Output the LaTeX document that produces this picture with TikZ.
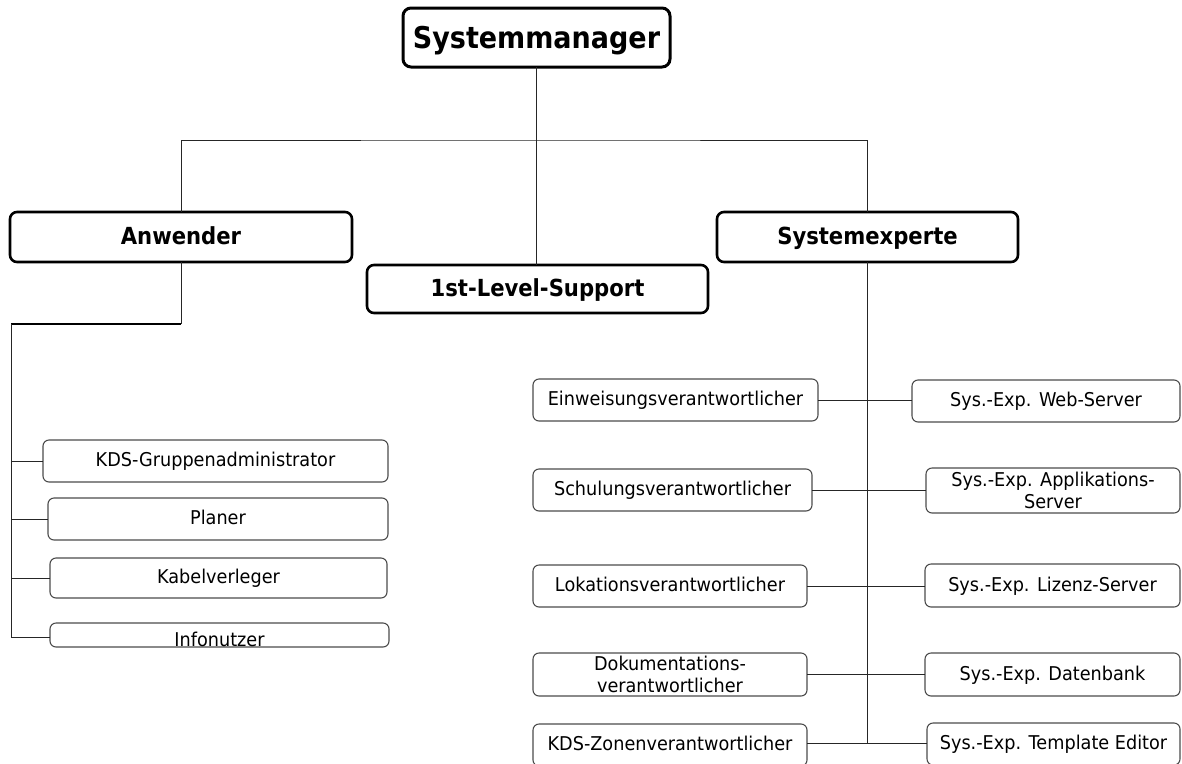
\documentclass[tikz,border=0pt]{standalone}
\usepackage{fontspec}
\setmainfont[FakeStretch=0.93]{DejaVu Sans}
\newfontfamily\headfont[FakeStretch=0.9]{DejaVu Sans}
\begin{document}
\begin{tikzpicture}[x=1pt,y=-1pt,
  topbox/.style={draw=black, line width=3pt, rounded corners=8pt, fill=white,
    inner sep=0pt, outer sep=0pt, text height=21pt, text depth=0pt,
    font=\headfont\bfseries\fontsize{30}{32}\selectfont},
  midbox/.style={draw=black, line width=2.6pt, rounded corners=7pt, fill=white,
    inner sep=0pt, outer sep=0pt, text height=15pt, text depth=0pt,
    font=\headfont\bfseries\fontsize{23.5}{26}\selectfont},
  leaf/.style={draw=black!70, line width=1.1pt, rounded corners=6pt, fill=white,
    inner sep=0pt, outer sep=0pt, text height=11.5pt, text depth=0pt,
    font=\fontsize{19}{21}\selectfont},
  leaftwo/.style={leaf, align=center, text height=, text depth=,
    font=\fontsize{19}{21.5}\selectfont},
  conn/.style={draw=black!85, line width=1pt},
  busthick/.style={draw=black, line width=1.8pt}
]
\path[use as bounding box, clip] (0,0) rectangle (1182,763);

% level 0 and level 1
\node[topbox, minimum width=267pt, minimum height=59pt] (mgr) at (536.5,37.5) {Systemmanager};
\node[midbox, minimum width=342pt, minimum height=50pt] (anw) at (181,237) {Anwender};
\node[midbox, minimum width=341pt, minimum height=48pt] (sup) at (537.5,289) {1st-Level-Support};
\node[midbox, minimum width=301pt, minimum height=50pt] (sexp) at (867.5,237) {Systemexperte};

% user roles
\node[leaf, minimum width=345pt, minimum height=42pt] (kds1) at (215.5,461) {KDS-Gruppenadministrator};
\node[leaf, minimum width=340pt, minimum height=42pt] (plan) at (218,519) {Planer};
\node[leaf, minimum width=337pt, minimum height=40pt] (kabel) at (218.5,578) {Kabelverleger};
\node[leaf, minimum width=339pt, minimum height=24pt, text height=23pt] (info) at (219.5,635) {Infonutzer};

% expert roles, left column
\node[leaf, minimum width=285pt, minimum height=42pt] (einw) at (675.5,400) {Einweisungsverantwortlicher};
\node[leaf, minimum width=279pt, minimum height=42pt] (schul) at (672.5,490) {Schulungsverantwortlicher};
\node[leaf, minimum width=274pt, minimum height=42pt] (lok) at (670,586) {Lokationsverantwortlicher};
\node[leaftwo, minimum width=274pt, minimum height=43pt] (doku) at (670,674.5) {Dokumentations-\\verantwortlicher};
\node[leaf, minimum width=274pt, minimum height=42pt] (zonen) at (670,745) {KDS-Zonenverantwortlicher};

% expert roles, right column
\node[leaf, minimum width=268pt, minimum height=42pt] (web) at (1046,401) {Sys.-Exp. Web-Server};
\node[leaftwo, minimum width=254pt, minimum height=45pt] (app) at (1053,490.5) {Sys.-Exp. Applikations-\\Server};
\node[leaf, minimum width=255pt, minimum height=43pt] (liz) at (1052.5,585.5) {Sys.-Exp. Lizenz-Server};
\node[leaf, minimum width=255pt, minimum height=43pt] (dat) at (1052.5,674.5) {Sys.-Exp. Datenbank};
\node[leaf, minimum width=253pt, minimum height=42pt] (tmpl) at (1053.5,744) {Sys.-Exp. Template Editor};

% junction points of the connector tree
\coordinate (hub) at (536.5,140);
\coordinate (lbus) at (11,324);
\coordinate (lbusend) at (11,637);
\coordinate (rbusend) at (867.5,743);

% top connectors
\draw[conn] (mgr.south) -- (mgr.south |- sup.north);
\draw[conn] (anw.north) |- (hub) -| (sexp.north);

% user branch
\draw[conn] (anw.south) -- (anw.south |- lbus);
\draw[busthick] (anw.south |- lbus) -- (lbus);
\draw[conn] (lbus) -- (lbusend);
\draw[conn] (lbus |- kds1.west) -- (kds1.west);
\draw[conn] (lbus |- plan.west) -- (plan.west);
\draw[conn] (lbus |- kabel.west) -- (kabel.west);
\draw[conn] (lbusend) -- (lbusend -| info.west);

% expert branch
\draw[conn] (sexp.south) -- (rbusend);
\draw[conn] (einw.east) -- (einw.east -| web.west);
\draw[conn] (schul.east) -- (schul.east -| app.west);
\draw[conn] (lok.east) -- (lok.east -| liz.west);
\draw[conn] (doku.east) -- (doku.east -| dat.west);
\draw[conn] (rbusend -| zonen.east) -- (rbusend -| tmpl.west);
\end{tikzpicture}
\end{document}
